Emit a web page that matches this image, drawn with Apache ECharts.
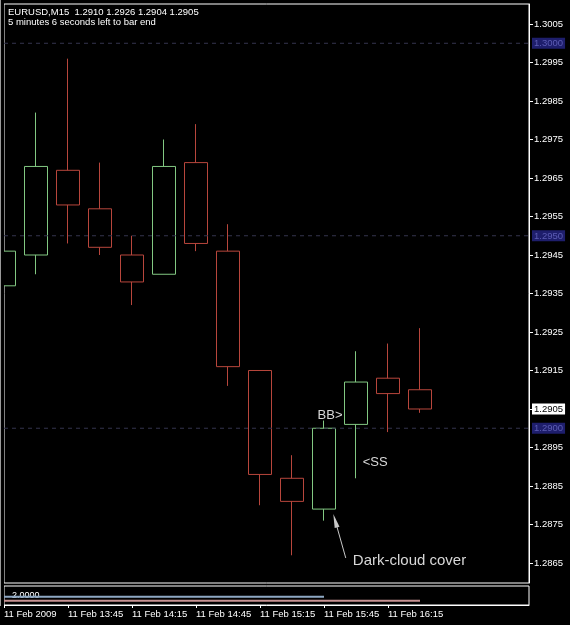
<!DOCTYPE html>
<html>
<head>
<meta charset="utf-8">
<script src="https://cdn.jsdelivr.net/npm/echarts@6/dist/echarts.min.js"></script>
<style>
    html, body { margin: 0; padding: 0; background: #000; }
    #chart { width: 570px; height: 625px; }
</style>
</head>
<body>
<div id="chart"></div>
<script>
// EURUSD M15, 11 Feb 2009, bars 13:15 .. 16:30
const times  = ['13:15', '13:30', '13:45', '14:00', '14:15', '14:30', '14:45',
                '15:00', '15:15', '15:30', '15:45', '16:00', '16:15', '16:30'];
const opens  = [1.2937, 1.2945, 1.2967, 1.2957, 1.2945, 1.2940, 1.2969,
                1.2946, 1.2915, 1.2887, 1.2879, 1.2901, 1.2913, 1.2910];
const closes = [1.2946, 1.2968, 1.2958, 1.2947, 1.2938, 1.2968, 1.2948,
                1.2916, 1.2888, 1.2881, 1.2900, 1.2912, 1.2909, 1.2905];
const lows   = [1.2936, 1.2940, 1.2948, 1.2945, 1.2932, 1.2940, 1.2946,
                1.2911, 1.2880, 1.2867, 1.2876, 1.2887, 1.2899, 1.2904];
const highs  = [1.2964, 1.2982, 1.2996, 1.2969, 1.2950, 1.2975, 1.2979,
                1.2953, 1.2915, 1.2893, 1.2902, 1.2920, 1.2922, 1.2926];

// price axis ticks and the dotted round-number levels
const priceTicks = [1.2865, 1.2875, 1.2885, 1.2895, 1.2905, 1.2915, 1.2925, 1.2935,
                    1.2945, 1.2955, 1.2965, 1.2975, 1.2985, 1.2995, 1.3005];
const levels = [1.3000, 1.2950, 1.2900];
const bid = 1.2905;

// time axis (every 2nd bar)
const timeTickIdx = [0, 2, 4, 6, 8, 10, 12];
const timeLabels = ['11 Feb 2009', '11 Feb 13:45', '11 Feb 14:15', '11 Feb 14:45',
                    '11 Feb 15:15', '11 Feb 15:45', '11 Feb 16:15'];

// sub-window indicator lines
const blueLine = [2, 2, 2, 2, 2, 2, 2, 2, 2, 2, 2];
const pinkLine = [1, 1, 1, 1, 1, 1, 1, 1, 1, 1, 1, 1, 1, 1];

// annotations: [text, bar index, price, size]
const notes = [
    ['BB>', 9.80, 1.29034, 13],
    ['<SS', 11.21, 1.28911, 13],
    ['Dark-cloud cover', 10.90, 1.28656, 15]
];
const arrowFrom = [10.68, 1.28663];
const arrowTo = [10.35, 1.28760];

const bull = '#82c882', bear = '#b8463c';
const font = 'Liberation Sans';
const xMax = 525 / 32;

const candles = times.map((t, i) => [i, opens[i], closes[i], lows[i], highs[i]]);
const labelValues = priceTicks.concat(levels).sort((a, b) => a - b);

function priceLabel(v) {
    const s = v.toFixed(4);
    if (v === bid) return '{bid|' + s + '}';
    if (levels.indexOf(v) >= 0) return '{lvl|' + s + '}';
    return '{n|' + s + '}';
}

const chart = echarts.init(document.getElementById('chart'));

const levelSeries = levels.map(v => ({
    type: 'line', xAxisIndex: 0, yAxisIndex: 0, symbol: 'none', silent: true,
    lineStyle: { color: '#34344e', type: [4, 4], width: 1 },
    data: [[0, v], [xMax, v]]
}));

const option = {
    backgroundColor: '#000',
    animation: false,
    grid: [
        { left: 4, top: 4, width: 525, height: 579, show: true, borderColor: '#fff', borderWidth: 1 },
        { left: 4, top: 586, width: 525, height: 19, show: true, borderColor: '#fff', borderWidth: 1 }
    ],
    xAxis: [
        { type: 'value', gridIndex: 0, min: 0, max: xMax, show: false },
        {
            type: 'value', gridIndex: 1, min: 0, max: xMax,
            splitLine: { show: false },
            axisLine: { show: true, onZero: false, lineStyle: { color: '#fff' } },
            axisTick: { show: true, length: 3, lineStyle: { color: '#fff' }, customValues: timeTickIdx },
            axisLabel: {
                customValues: timeTickIdx,
                color: '#fff', fontSize: 9.5, fontFamily: font, align: 'left', margin: 4,
                formatter: v => timeLabels[timeTickIdx.indexOf(v)] || ''
            }
        }
    ],
    yAxis: [
        {
            type: 'value', gridIndex: 0, position: 'right', min: 1.28598, max: 1.30102,
            splitLine: { show: false },
            axisLine: { show: true, onZero: false, lineStyle: { color: '#fff' } },
            axisTick: { show: true, length: 4, lineStyle: { color: '#fff' }, customValues: priceTicks },
            axisLabel: {
                customValues: labelValues,
                hideOverlap: false,
                color: '#fff', fontSize: 9.5, fontFamily: font, margin: 3,
                formatter: priceLabel,
                rich: {
                    n: { color: '#fff', fontSize: 9.5, fontFamily: font, padding: [0, 2, 0, 2] },
                    bid: { color: '#000', backgroundColor: '#fff', fontSize: 9.5, fontFamily: font, padding: [1, 2, 0, 2] },
                    lvl: { color: '#5c5cb4', backgroundColor: '#1e1e6c', fontSize: 9.5, fontFamily: font, padding: [1, 2, 0, 2] }
                }
            }
        },
        { type: 'value', gridIndex: 1, min: 0, max: 4.6, show: false }
    ],
    series: levelSeries.concat([
        {
            type: 'candlestick',
            xAxisIndex: 0, yAxisIndex: 0,
            barWidth: 24,
            data: candles,
            itemStyle: { color: '#000', color0: '#000', borderColor: bull, borderColor0: bear, borderWidth: 1 }
        },
        {
            // annotations
            type: 'line', xAxisIndex: 0, yAxisIndex: 0, data: [],
            markPoint: {
                silent: true,
                symbol: 'rect', symbolSize: 1,
                itemStyle: { color: 'rgba(0,0,0,0)' },
                label: { position: 'inside', align: 'left', verticalAlign: 'middle', color: '#d8d8d8', fontFamily: font },
                data: notes.map(n => ({
                    name: n[0], coord: [n[1], n[2]],
                    label: { formatter: n[0], fontSize: n[3] }
                }))
            },
            markLine: {
                silent: true,
                symbol: ['none', 'triangle'],
                symbolSize: [5, 14],
                lineStyle: { color: '#c8c8c8', width: 1, type: 'solid' },
                label: { show: false },
                data: [[{ coord: arrowFrom }, { coord: arrowTo }]]
            }
        },
        {
            type: 'line', xAxisIndex: 1, yAxisIndex: 1, symbol: 'none',
            lineStyle: { color: '#8ea8c3', width: 2 },
            data: blueLine.map((v, i) => [i, v])
        },
        {
            type: 'line', xAxisIndex: 1, yAxisIndex: 1, symbol: 'none',
            lineStyle: { color: '#c79393', width: 2 },
            data: pinkLine.map((v, i) => [i, v])
        }
    ]),
    graphic: [
        // mask the part of the first bar that falls left of the chart frame
        { type: 'rect', z: 100, shape: { x: 0, y: 0, width: 4, height: 606 }, style: { fill: '#000' } },
        { type: 'line', z: 101, shape: { x1: 0.5, y1: 0, x2: 0.5, y2: 606 }, style: { stroke: '#9a9a9a', lineWidth: 1 } },
        { type: 'text', left: 8, top: 7, style: { text: 'EURUSD,M15  1.2910 1.2926 1.2904 1.2905', fill: '#fff', font: '9.5px "Liberation Sans"' } },
        { type: 'text', left: 8, top: 17, style: { text: '5 minutes 6 seconds left to bar end', fill: '#fff', font: '9.5px "Liberation Sans"' } },
        { type: 'text', left: 12, top: 591, style: { text: '2.0000', fill: '#fff', font: '9px "Liberation Sans"' } }
    ]
};

chart.setOption(option);
</script>
</body>
</html>
